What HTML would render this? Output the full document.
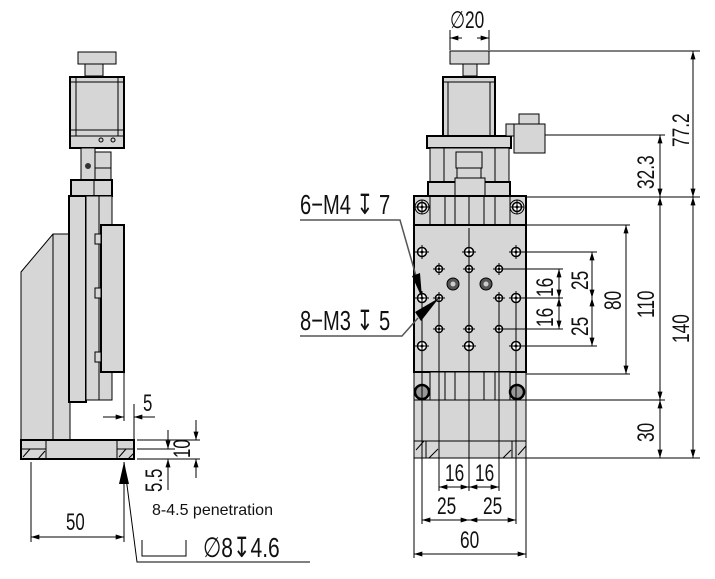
<!DOCTYPE html>
<html><head><meta charset="utf-8"><style>
html,body{margin:0;padding:0;background:#fff;width:715px;height:579px;overflow:hidden}
svg{display:block}
.g{fill:#d6d6d6;stroke:#000;stroke-width:1}
.gb{fill:#d6d6d6;stroke:#000;stroke-width:2}
.l{stroke:#000;stroke-width:1;fill:none}
.t{font-family:"Liberation Sans",sans-serif;font-size:24px;fill:#111}
.c{font-family:"Liberation Sans",sans-serif;font-size:28px;fill:#111}
.d{font-family:"DejaVu Sans",sans-serif}
</style></head><body>
<svg width="715" height="579" viewBox="0 0 715 579" xmlns="http://www.w3.org/2000/svg">
<defs>
<marker id="a" viewBox="0 0 10 6" refX="10" refY="3" markerWidth="10" markerHeight="5" orient="auto-start-reverse" markerUnits="userSpaceOnUse"><path d="M0,0L10,3L0,6z" fill="#000"/></marker>
<g id="h"><circle r="4.5" fill="#fff" stroke="#000" stroke-width="1.5"/><path d="M-7,0H7M0,-7V7" stroke="#000" stroke-width="1"/><circle r="1.5" fill="#000"/></g>
<g id="hs"><circle r="3.5" fill="#fff" stroke="#000" stroke-width="1.5"/><path d="M-6,0H6M0,-6V6" stroke="#000" stroke-width="1"/><circle r="1.2" fill="#000"/></g>
</defs>

<!-- ========== LEFT VIEW ========== -->
<rect class="g" x="78" y="52" width="38" height="12"/>
<rect class="g" x="85" y="64" width="18" height="12"/>
<rect class="gb" x="70" y="77" width="54" height="71"/>
<path class="l" d="M70,82H124M76,77V136M118,77V136M70,130H124M70,136H124"/>
<circle cx="101" cy="140" r="2" class="l"/><circle cx="113" cy="140" r="2" class="l"/>
<rect class="g" x="81" y="148" width="14" height="32"/>
<rect class="g" x="95" y="152" width="16" height="16"/>
<rect class="g" x="95" y="168" width="16" height="12"/>
<circle cx="88" cy="166" r="3" fill="#333"/>
<rect class="gb" x="71" y="180" width="41" height="16"/>
<path class="l" d="M94,180V196"/>
<path class="g" d="M21,272L53,234H70V440H21Z"/>
<path class="l" d="M53,234V440"/>
<rect class="gb" x="69" y="196" width="17" height="206"/>
<rect class="g" x="86" y="196" width="26" height="204"/>
<path class="l" d="M99,196V400"/>
<rect class="gb" x="101" y="225" width="23" height="147"/>
<rect class="g" x="95" y="234" width="6" height="10"/>
<rect class="g" x="95" y="288" width="6" height="10"/>
<rect class="g" x="95" y="352" width="6" height="10"/>
<rect class="gb" x="21" y="440" width="113" height="19"/>
<path class="l" d="M21,449H46M117,449H134M46,440V459M117,440V459M23,457L30,449M38,459L45,451M119,457L126,449M128,459L134,453"/>
<!-- left dims -->
<path class="l" d="M124,372V421M134,404V440"/>
<path class="l" d="M103,417H124" marker-end="url(#a)"/><path class="l" d="M155,417H134" marker-end="url(#a)"/>
<text class="t" x="143" y="411" transform="translate(143 0) scale(.7 1) translate(-143 0)">5</text>
<path class="l" d="M137,440H200M137,449H175M137,459H200"/>
<path class="l" d="M196,420V440" marker-end="url(#a)"/><path class="l" d="M196,478V459" marker-end="url(#a)"/>
<path class="l" d="M168,430V449" marker-end="url(#a)"/><path class="l" d="M168,490V459" marker-end="url(#a)"/>
<text class="t" transform="translate(190 458) rotate(-90) scale(.7 1)">10</text>
<text class="t" transform="translate(162 492) rotate(-90) scale(.7 1)">5.5</text>
<path class="l" d="M31,462V542M124,462V542"/>
<path class="l" d="M31,537H124" marker-start="url(#a)" marker-end="url(#a)"/>
<text class="t" x="66" y="530" transform="translate(66 0) scale(.7 1) translate(-66 0)">50</text>
<path class="l" d="M124,462L137,562H310"/>
<path d="M124,462L119,484L129,484Z" fill="#000"/>
<text x="152" y="515" style="font-family:'Liberation Sans',sans-serif;font-size:16px;fill:#111">8-4.5 penetration</text>
<path class="l" d="M142,540V556H186V540"/>
<text class="c" x="203" y="557" transform="translate(203 0) scale(.75 1) translate(-203 0)">∅8<tspan class="d">↧</tspan>4.6</text>

<!-- ========== RIGHT VIEW ========== -->
<path class="g" d="M414,196H526V458H414Z"/>
<rect class="g" x="450" y="51" width="39" height="13"/>
<rect class="g" x="463" y="64" width="14" height="12"/>
<rect class="gb" x="443" y="77" width="52" height="59"/>
<path class="l" d="M443,82H495M448,82V136M490,82V136"/>
<rect class="gb" x="427" y="136" width="84" height="12"/>
<rect class="g" x="430" y="148" width="79" height="34"/>
<path class="l" d="M444,148V182M495,148V182"/>
<rect class="g" x="456" y="152" width="26" height="16"/>
<rect class="g" x="457" y="168" width="24" height="14"/>
<rect class="gb" x="428" y="182" width="82" height="14"/>
<rect class="g" x="455" y="178" width="30" height="23"/>
<rect class="g" x="514" y="124" width="31" height="29"/>
<rect class="g" x="519" y="114" width="20" height="10"/>
<rect class="g" x="506" y="124" width="8" height="12"/>
<rect class="gb" x="414" y="196" width="112" height="29"/>
<path class="l" d="M430,196V225M445,196V225M495,196V225M510,196V225M469,196V225M455,196V225M484,196V225"/>
<circle cx="422" cy="207" r="7" class="g"/><use href="#h" x="422" y="207"/>
<circle cx="517" cy="207" r="7" class="g"/><use href="#h" x="517" y="207"/>
<rect class="gb" x="414" y="225" width="112" height="147"/>
<path class="l" d="M469,228V372"/>
<use href="#h" x="422" y="252"/><use href="#h" x="469" y="252"/><use href="#h" x="516" y="252"/>
<use href="#hs" x="439" y="269"/><use href="#hs" x="469" y="269"/><use href="#hs" x="499" y="269"/>
<circle cx="453" cy="284" r="6" fill="#555" stroke="#000"/><circle cx="453" cy="284" r="2.5" fill="#ccc"/>
<circle cx="486" cy="284" r="6" fill="#555" stroke="#000"/><circle cx="486" cy="284" r="2.5" fill="#ccc"/>
<use href="#h" x="422" y="298"/><use href="#hs" x="439" y="298"/><use href="#hs" x="499" y="298"/><use href="#h" x="516" y="298"/>
<use href="#hs" x="439" y="329"/><use href="#hs" x="469" y="329"/><use href="#hs" x="499" y="329"/>
<use href="#h" x="422" y="346"/><use href="#h" x="469" y="346"/><use href="#h" x="516" y="346"/>
<rect class="g" x="430" y="372" width="80" height="28"/>
<path class="l" d="M445,372V400M495,372V400M455,372V400M484,372V400"/>
<circle cx="422" cy="392" r="7" fill="#999" stroke="#000" stroke-width="2.5"/>
<circle cx="517" cy="392" r="7" fill="#999" stroke="#000" stroke-width="2.5"/>
<path class="l" d="M414,400H526M414,441H526M439,441V458M499,441V458M426,441V458M512,441V458M416,450L424,441M429,458L438,449M503,458L511,450M518,455L526,446M414,458H526"/>
<path class="l" d="M422,300V524M439,300V491M469,372V491M499,300V491M516,300V524M414,458V558M526,458V558"/>
<!-- right view dims -->
<path class="l" d="M450,30V50M489,30V50"/>
<path class="l" d="M462,38H450" marker-end="url(#a)"/><path class="l" d="M477,38H489" marker-end="url(#a)"/>
<text class="t" x="450" y="28" transform="translate(450 0) scale(.72 1) translate(-450 0)">∅20</text>
<path class="l" d="M489,51H700M545,135H665M526,197H700M526,225H630M516,252H597M499,269H563M516,298H563M499,329H563M516,346H597M526,374H630M526,400H665M526,458H700"/>
<path class="l" d="M693,51V197" marker-start="url(#a)" marker-end="url(#a)"/>
<path class="l" d="M693,197V458" marker-start="url(#a)" marker-end="url(#a)"/>
<path class="l" d="M660,135V197" marker-start="url(#a)" marker-end="url(#a)"/>
<path class="l" d="M660,197V400" marker-start="url(#a)" marker-end="url(#a)"/>
<path class="l" d="M660,400V458" marker-start="url(#a)" marker-end="url(#a)"/>
<path class="l" d="M626,225V374" marker-start="url(#a)" marker-end="url(#a)"/>
<path class="l" d="M592,252V298" marker-start="url(#a)" marker-end="url(#a)"/>
<path class="l" d="M592,298V346" marker-start="url(#a)" marker-end="url(#a)"/>
<path class="l" d="M559,269V298" marker-start="url(#a)" marker-end="url(#a)"/>
<path class="l" d="M559,298V329" marker-start="url(#a)" marker-end="url(#a)"/>
<g class="t">
<text transform="translate(689 147) rotate(-90) scale(.72 1)">77.2</text>
<text transform="translate(654 189) rotate(-90) scale(.72 1)">32.3</text>
<text transform="translate(654 318) rotate(-90) scale(.72 1)">110</text>
<text transform="translate(689 343) rotate(-90) scale(.72 1)">140</text>
<text transform="translate(654 442) rotate(-90) scale(.72 1)">30</text>
<text transform="translate(621 310) rotate(-90) scale(.72 1)">80</text>
<text transform="translate(588 290) rotate(-90) scale(.72 1)">25</text>
<text transform="translate(588 336) rotate(-90) scale(.72 1)">25</text>
<text transform="translate(553 297) rotate(-90) scale(.72 1)">16</text>
<text transform="translate(553 327) rotate(-90) scale(.72 1)">16</text>
</g>
<path class="l" d="M439,487H469" marker-start="url(#a)" marker-end="url(#a)"/>
<path class="l" d="M469,487H499" marker-start="url(#a)" marker-end="url(#a)"/>
<path class="l" d="M422,520H469" marker-start="url(#a)" marker-end="url(#a)"/>
<path class="l" d="M469,520H516" marker-start="url(#a)" marker-end="url(#a)"/>
<path class="l" d="M414,554H526" marker-start="url(#a)" marker-end="url(#a)"/>
<g class="t">
<text transform="translate(445 481) scale(.72 1)">16</text>
<text transform="translate(475 481) scale(.72 1)">16</text>
<text transform="translate(437 514) scale(.72 1)">25</text>
<text transform="translate(483 514) scale(.72 1)">25</text>
<text transform="translate(460 548) scale(.72 1)">60</text>
</g>
<!-- callouts -->
<text class="c" transform="translate(300 214) scale(.72 1)">6−M4 <tspan class="d">↧</tspan> 7</text>
<path d="M300,220H400L420,290" stroke="#555" stroke-width="1.5" fill="none"/>
<path d="M422,298L412,276L420,273Z" fill="#000"/>
<text class="c" transform="translate(300 330) scale(.72 1)">8−M3 <tspan class="d">↧</tspan> 5</text>
<path d="M300,336H402L418,318" stroke="#555" stroke-width="1.5" fill="none"/>
<path d="M439,298L415,312L421,321Z" fill="#000"/>
</svg>
</body></html>
